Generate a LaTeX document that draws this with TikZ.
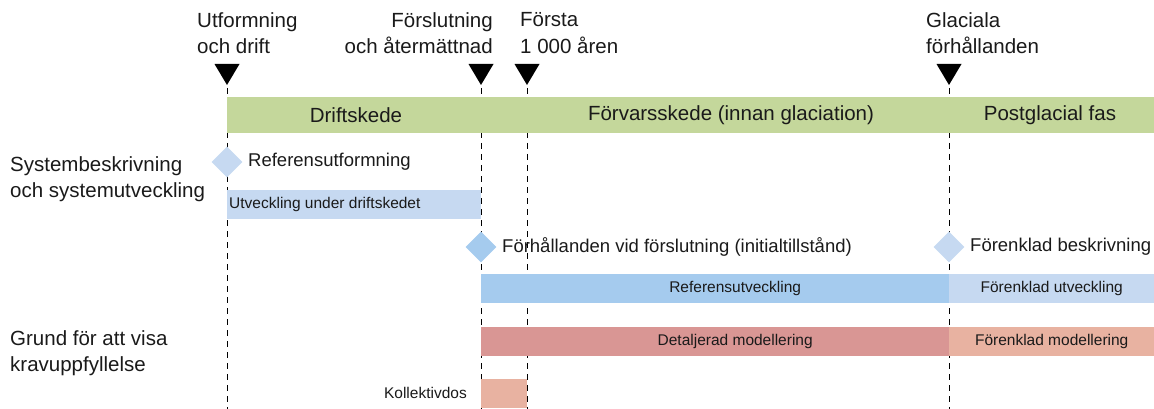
\documentclass[tikz,border=0pt]{standalone}
\usepackage{fontspec}
\setmainfont{Liberation Sans}
\usetikzlibrary{calc,shapes.geometric}
\definecolor{phasegreen}{HTML}{C4D79B}
\definecolor{lightblue}{HTML}{C6D9F1}
\definecolor{midblue}{HTML}{A5CBEE}
\definecolor{darkred}{HTML}{D99694}
\definecolor{salmon}{HTML}{E8B2A1}
\definecolor{txt}{HTML}{1A1A1A}
\tikzset{
  bigtext/.style={font=\fontsize{20.5}{26.5}\selectfont, text=txt, inner sep=0pt},
  midtext/.style={font=\fontsize{18.5}{24}\selectfont, text=txt, inner sep=0pt},
  smalltext/.style={font=\fontsize{15.5}{19}\selectfont, text=txt, inner sep=0pt},
  barbox/.style={rectangle, draw=none, inner sep=0pt, anchor=north west, minimum height=#1},
  barbox/.default=29,
  milestone/.style={diamond, draw=none, inner sep=0pt, minimum width=31, minimum height=31},
  guide/.style={draw=black, line width=0.9pt, dash pattern=on 6pt off 5pt},
  marker/.style={fill=black}
}
\begin{document}
\begin{tikzpicture}[x=1pt,y=-1pt]
\useasboundingbox (0,0) rectangle (1154,409);

% milestone positions
\coordinate (m1) at (227,88);
\coordinate (m2) at (481,88);
\coordinate (m3) at (527,88);
\coordinate (m4) at (949,88);
\coordinate (bottom) at (0,409);

% dashed guides
\foreach \m in {m1,m2,m3,m4}{
  \draw[guide] (\m) -- (\m |- bottom);
  \fill[marker] ($(\m)+(-12.5,-24)$) -- ($(\m)+(12.5,-24)$) -- ($(\m)+(0,-3)$) -- cycle;
}

% top labels
\node[bigtext, align=left, anchor=west] (lab1) at (197,33) {Utformning\\och drift};
\node[bigtext, align=right, anchor=east] (lab2) at (493,33) {Förslutning\\och återmättnad};
\node[bigtext, align=left, anchor=west] (lab3) at (520,33) {Första\\1 000 åren};
\node[bigtext, align=left, anchor=west] (lab4) at (926,33) {Glaciala\\förhållanden};

% phase band
\node[barbox=36, fill=phasegreen, minimum width=927] (band) at (227,97) {};
\node[bigtext] (ph1) at (356,115) {Driftskede};
\node[bigtext] (ph2) at (731,115) {Förvarsskede (innan glaciation)};
\node[bigtext] (ph3) at (1050,115) {Postglacial fas};

% row labels
\node[bigtext, align=left, anchor=west] (row1) at (10,179) {Systembeskrivning\\och systemutveckling};
\node[bigtext, align=left, anchor=west] (row2) at (10,353) {Grund för att visa\\kravuppfyllelse};

% system description row
\node[milestone, fill=lightblue] (d1) at (227,162) {};
\node[midtext, anchor=west] (d1t) at (248,162) {Referensutformning};
\node[barbox, fill=lightblue, minimum width=254] (b1) at (227,190) {};
\node[smalltext, anchor=west] (b1t) at ($(b1.west)+(2,0)$) {Utveckling under driftskedet};

\node[milestone, fill=midblue] (d2) at (481,247) {};
\node[midtext, anchor=west] (d2t) at (502,247) {Förhållanden vid förslutning (initialtillstånd)};
\node[milestone, fill=lightblue] (d3) at (949,247) {};
\node[midtext, anchor=west] (d3t) at (970,247) {Förenklad beskrivning};

\node[barbox, fill=midblue, minimum width=468] (b2) at (481,274) {};
\node[smalltext] (b2t) at ($(b2.center)+(20,0)$) {Referensutveckling};
\node[barbox, fill=lightblue, minimum width=205] (b3) at (949,274) {};
\node[smalltext] (b3t) at (b3.center) {Förenklad utveckling};

% compliance row
\node[barbox, fill=darkred, minimum width=468] (b4) at (481,327) {};
\node[smalltext] (b4t) at ($(b4.center)+(20,0)$) {Detaljerad modellering};
\node[barbox, fill=salmon, minimum width=205] (b5) at (949,327) {};
\node[smalltext] (b5t) at (b5.center) {Förenklad modellering};

\node[barbox, fill=salmon, minimum width=46] (b6) at (481,379) {};
\node[smalltext, anchor=east] (b6t) at (467,393) {Kollektivdos};
\end{tikzpicture}
\end{document}
